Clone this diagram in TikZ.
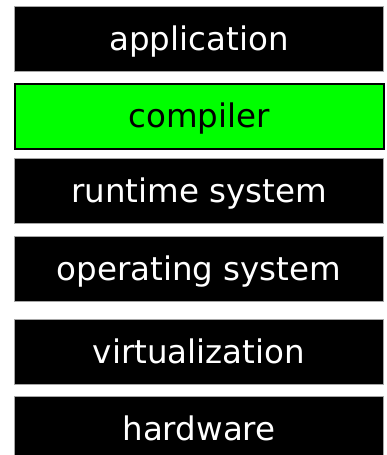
\documentclass[tikz,border=0pt]{standalone}
\usepackage{fontspec}
\setmainfont{DejaVu Sans}
\begin{document}
\begin{tikzpicture}[x=1pt,y=-1pt,
  layer/.style={rectangle, anchor=north west, minimum width=369pt, minimum height=65pt,
    inner sep=0pt, text height=23pt, text depth=0pt,
    font=\fontsize{32.5}{38}\selectfont},
  darklayer/.style={layer, fill=black, draw=gray!70, line width=1pt, text=white},
  greenlayer/.style={layer, fill={rgb,255:red,0;green,255;blue,0}, draw=black, line width=1.5pt, text=black}]
\clip (0,0) rectangle (386,455);
\fill[white] (0,0) rectangle (386,455);
\node[darklayer]  (app) at (14,6)   {application};
\node[greenlayer] (cmp) at (14,83)  {compiler};
\node[darklayer]  (rts) at (14,158) {runtime system};
\node[darklayer]  (os)  at (14,236) {operating system};
\node[darklayer]  (vm)  at (14,319) {virtualization};
\node[darklayer]  (hw)  at (14,396) {hardware};
\end{tikzpicture}
\end{document}
